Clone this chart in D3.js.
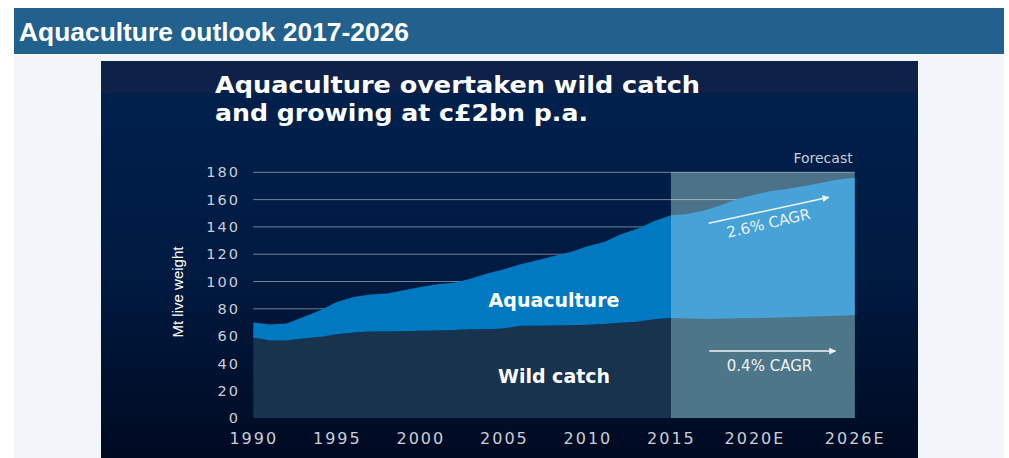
<!DOCTYPE html>
<html>
<head>
<meta charset="utf-8">
<script src="https://cdn.jsdelivr.net/npm/d3@7"></script>
<style>
  body { margin: 0; background: #ffffff; }
  svg { display: block; }
</style>
</head>
<body>
<svg class="chart" width="1009" height="458"></svg>
<script>
// years and values (Mt live weight)
var histYears = [1990, 1991, 1992, 1993, 1994, 1995, 1996, 1997, 1998, 1999, 2000, 2001, 2002,
                 2003, 2004, 2005, 2006, 2007, 2008, 2009, 2010, 2011, 2012, 2013, 2014, 2015];
var histWild  = [58.8, 56.8, 56.8, 58.3, 59.5, 61.4, 62.7, 63.4, 63.4, 63.6, 63.9, 64.1, 64.4,
                 65.1, 65.1, 65.6, 67.5, 67.5, 67.8, 68.0, 68.3, 68.8, 69.7, 70.5, 72.4, 73.2];
var histTotal = [70.0, 68.5, 69.3, 74.0, 79.0, 85.0, 88.7, 90.5, 91.2, 93.6, 96.0, 98.0, 99.0,
                 102.0, 105.8, 109.0, 112.6, 115.6, 118.7, 121.7, 125.8, 129.0, 134.6, 138.7, 144.4, 148.5];

var fcYears = [2015, 2016, 2017, 2018, 2019, 2020, 2021, 2022, 2023, 2024, 2025, 2026];
var fcWild  = [73.2, 72.9, 72.5, 72.8, 73.0, 73.2, 73.5, 73.8, 74.2, 74.6, 75.0, 75.3];
var fcTotal = [148.5, 149.5, 152.0, 155.8, 160.7, 163.6, 166.3, 168.0, 170.0, 172.4, 174.8, 176.0];

var yTicks = [0, 20, 40, 60, 80, 100, 120, 140, 160, 180];
var xTicks = [1990, 1995, 2000, 2005, 2010, 2015, 2020, 2026];

var svg = d3.select("svg.chart");

// page frame: header bar + light panel
svg.append("rect").attr("x", 14).attr("y", 54).attr("width", 990).attr("height", 404).attr("fill", "#f2f6fa");
svg.append("rect").attr("x", 14).attr("y", 8).attr("width", 990).attr("height", 46).attr("fill", "#22618d");
svg.append("text")
    .attr("x", 19).attr("y", 41)
    .attr("textLength", 390).attr("lengthAdjust", "spacingAndGlyphs")
    .style("font-family", "'Liberation Sans', Arial, sans-serif")
    .style("font-weight", "bold").style("font-size", "26px")
    .attr("fill", "#ffffff")
    .text("Aquaculture outlook 2017-2026");

// dark slide background
var defs = svg.append("defs");
var grad = defs.append("linearGradient").attr("id", "bg").attr("x1", 0).attr("y1", 0).attr("x2", 0).attr("y2", 1);
grad.append("stop").attr("offset", "0%").attr("stop-color", "#00214f");
grad.append("stop").attr("offset", "55%").attr("stop-color", "#001a40");
grad.append("stop").attr("offset", "100%").attr("stop-color", "#000a21");

defs.append("marker").attr("id", "head")
    .attr("viewBox", "0 0 10 10").attr("refX", 9).attr("refY", 5)
    .attr("markerWidth", 7).attr("markerHeight", 7).attr("orient", "auto")
    .attr("markerUnits", "userSpaceOnUse")
  .append("path").attr("d", "M0,0 L10,5 L0,10 Z").attr("fill", "#f2f5f8");

svg.append("rect").attr("x", 101).attr("y", 61).attr("width", 817).attr("height", 397).attr("fill", "url(#bg)");
svg.append("rect").attr("x", 101).attr("y", 61).attr("width", 817).attr("height", 32).attr("fill", "#0f2149");

// slide title
var title = svg.append("g")
    .style("font-family", "'DejaVu Sans', sans-serif")
    .style("font-weight", "bold").style("font-size", "23px")
    .attr("fill", "#ffffff");
title.append("text").attr("x", 215).attr("y", 93)
    .attr("textLength", 485).attr("lengthAdjust", "spacingAndGlyphs")
    .text("Aquaculture overtaken wild catch");
title.append("text").attr("x", 215).attr("y", 121)
    .attr("textLength", 373).attr("lengthAdjust", "spacingAndGlyphs")
    .text("and growing at c£2bn p.a.");

// scales
var x = d3.scaleLinear().domain([1990, 2026]).range([253.3, 854.7]);
var y = d3.scaleLinear().domain([0, 180]).range([418, 172.3]);

// forecast box
svg.append("rect")
    .attr("x", x(2015)).attr("y", y(180))
    .attr("width", x(2026) - x(2015)).attr("height", y(0) - y(180))
    .attr("fill", "#4b7289");

// gridlines
svg.append("g").selectAll("line")
    .data(yTicks.filter(d => d > 0))
    .enter().append("line")
    .attr("x1", x(1990)).attr("x2", x(2026))
    .attr("y1", d => y(d)).attr("y2", d => y(d))
    .attr("stroke", "#ffffff").attr("stroke-opacity", 0.45).attr("stroke-width", 1);

// stacked areas
var hist = histYears.map((yr, i) => ({year: yr, wild: histWild[i], total: histTotal[i]}));
var fc = fcYears.map((yr, i) => ({year: yr, wild: fcWild[i], total: fcTotal[i]}));

var wildArea = d3.area().x(d => x(d.year)).y0(y(0)).y1(d => y(d.wild));
var aquaArea = d3.area().x(d => x(d.year)).y0(d => y(d.wild)).y1(d => y(d.total));

svg.append("path").datum(hist).attr("d", wildArea).attr("fill", "#17334d");
svg.append("path").datum(hist).attr("d", aquaArea).attr("fill", "#0079c1");
svg.append("path").datum(fc).attr("d", wildArea).attr("fill", "#4d7689");
svg.append("path").datum(fc).attr("d", aquaArea).attr("fill", "#46a2d7");

// axes (labels only)
var yAxis = svg.append("g")
    .attr("transform", "translate(240,0)")
    .call(d3.axisLeft(y).tickValues(yTicks).tickSize(0).tickPadding(0));
var xAxis = svg.append("g")
    .attr("transform", "translate(0,429)")
    .call(d3.axisBottom(x).tickValues(xTicks).tickSize(0).tickPadding(0)
        .tickFormat(d => d > 2015 ? d + "E" : String(d)));

[yAxis, xAxis].forEach(function(ax){
    ax.select(".domain").remove();
    ax.selectAll("text")
        .attr("fill", "#c9ced8")
        .style("font-family", "'DejaVu Sans', sans-serif");
});
yAxis.selectAll("text").style("font-size", "14.5px").style("letter-spacing", "2px");
xAxis.selectAll("text").style("font-size", "16px").style("letter-spacing", "2px").attr("dy", "0.95em");

// y axis title
svg.append("text")
    .attr("transform", "translate(183,292) rotate(-90)")
    .attr("text-anchor", "middle")
    .attr("textLength", 91).attr("lengthAdjust", "spacingAndGlyphs")
    .style("font-family", "'Liberation Sans', Arial, sans-serif")
    .style("font-size", "15px")
    .attr("fill", "#ffffff")
    .text("Mt live weight");

// series labels
var labels = svg.append("g")
    .style("font-family", "'DejaVu Sans', sans-serif")
    .style("font-weight", "bold").style("font-size", "19px")
    .attr("fill", "#ffffff").attr("text-anchor", "middle");
labels.append("text").attr("x", x(2008)).attr("y", y(81)).text("Aquaculture");
labels.append("text").attr("x", x(2008)).attr("y", y(26)).text("Wild catch");

// forecast annotations
svg.append("text")
    .attr("x", x(2026) - 2).attr("y", y(180) - 9)
    .attr("text-anchor", "end")
    .style("font-family", "'DejaVu Sans', sans-serif").style("font-size", "14px")
    .attr("fill", "#c9ced8")
    .text("Forecast");

svg.append("line")
    .attr("x1", x(2017.26)).attr("y1", y(142.7))
    .attr("x2", x(2024.45)).attr("y2", y(161.7))
    .attr("stroke", "#f2f5f8").attr("stroke-width", 1.5)
    .attr("marker-end", "url(#head)");
svg.append("line")
    .attr("x1", x(2017.3)).attr("y1", y(49))
    .attr("x2", x(2024.85)).attr("y2", y(49))
    .attr("stroke", "#f2f5f8").attr("stroke-width", 1.5)
    .attr("marker-end", "url(#head)");

var cagr = svg.append("g")
    .style("font-family", "'DejaVu Sans', sans-serif").style("font-size", "15px")
    .attr("fill", "#eef2f6").attr("text-anchor", "middle");
cagr.append("text")
    .attr("transform", `translate(${x(2020.9)},${y(139)}) rotate(-13)`)
    .text("2.6% CAGR");
cagr.append("text")
    .attr("x", x(2020.9)).attr("y", y(34.4))
    .text("0.4% CAGR");
</script>
</body>
</html>
